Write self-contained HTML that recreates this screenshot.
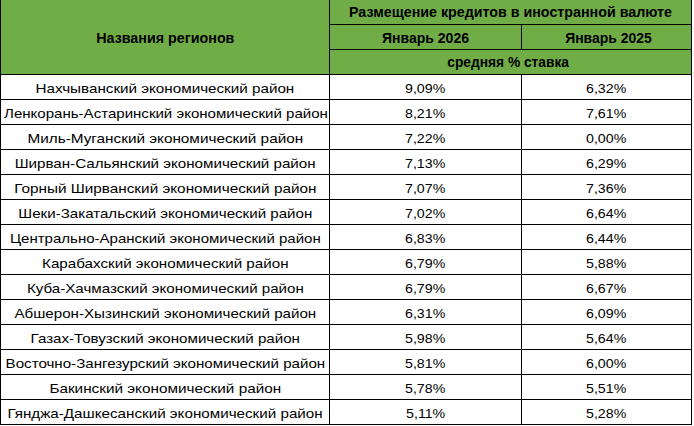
<!DOCTYPE html>
<html><head><meta charset="utf-8">
<style>
html,body{margin:0;padding:0;background:#fff;}
body{width:694px;height:426px;position:relative;overflow:hidden;font-family:"Liberation Sans",sans-serif;color:#000;}
.g{position:absolute;background:#70ad47;left:0;top:0;width:692px;height:74px;}
.h{position:absolute;background:#000;height:1px;}
.v{position:absolute;background:#000;width:1px;}
.c{position:absolute;text-align:center;white-space:nowrap;height:25px;line-height:25px;}
.c span{display:inline-block;transform-origin:50% 50%;}
.b{font-weight:bold;font-size:14px;}
.r{font-size:13.5px;}
</style></head><body>
<div class="g"></div>
<div class="h" style="left:329px;top:24px;width:363px"></div>
<div class="h" style="left:329px;top:49px;width:363px"></div>
<div class="h" style="left:0;top:74px;width:692px"></div>
<div class="h" style="left:0;top:99px;width:692px"></div>
<div class="h" style="left:0;top:124px;width:692px"></div>
<div class="h" style="left:0;top:149px;width:692px"></div>
<div class="h" style="left:0;top:174px;width:692px"></div>
<div class="h" style="left:0;top:199px;width:692px"></div>
<div class="h" style="left:0;top:224px;width:692px"></div>
<div class="h" style="left:0;top:249px;width:692px"></div>
<div class="h" style="left:0;top:274px;width:692px"></div>
<div class="h" style="left:0;top:299px;width:692px"></div>
<div class="h" style="left:0;top:324px;width:692px"></div>
<div class="h" style="left:0;top:349px;width:692px"></div>
<div class="h" style="left:0;top:374px;width:692px"></div>
<div class="h" style="left:0;top:399px;width:692px"></div>
<div class="h" style="left:0;top:424px;width:692px"></div>
<div class="v" style="left:0;top:0;height:425px"></div>
<div class="v" style="left:329px;top:0;height:425px"></div>
<div class="v" style="left:691px;top:0;height:425px"></div>
<div class="v" style="left:521px;top:24px;height:25px"></div>
<div class="v" style="left:521px;top:74px;height:351px"></div>
<div class="c b" style="left:1px;width:328px;top:25.5px"><span style="transform:translateX(0.65px) scaleX(1.0216)">Названия регионов</span></div>
<div class="c b" style="left:330px;width:361px;top:0px"><span style="transform:translateX(0.00px) scaleX(1.0187)">Размещение кредитов в иностранной валюте</span></div>
<div class="c b" style="left:330px;width:191px;top:25.7px"><span style="transform:translateX(0.00px) scaleX(1.0012)">Январь 2026</span></div>
<div class="c b" style="left:522px;width:169px;top:25.7px"><span style="transform:translateX(1.95px) scaleX(0.9942)">Январь 2025</span></div>
<div class="c b" style="left:330px;width:361px;top:50px"><span style="transform:translateX(-2.80px) scaleX(0.9823)">средняя % ставка</span></div>
<div class="c r" style="left:1px;width:328px;top:75.6px"><span style="transform:translateX(0.00px) scaleX(1.1268)">Нахчыванский экономический район</span></div>
<div class="c r" style="left:330px;width:191px;top:75.6px"><span style="transform:translateX(0.00px) scaleX(1.0500)">9,09%</span></div>
<div class="c r" style="left:522px;width:169px;top:75.6px"><span style="transform:translateX(0.00px) scaleX(1.0500)">6,32%</span></div>
<div class="c r" style="left:1px;width:328px;top:100.6px"><span style="transform:translateX(0.70px) scaleX(1.1149)">Ленкорань-Астаринский экономический район</span></div>
<div class="c r" style="left:330px;width:191px;top:100.6px"><span style="transform:translateX(0.00px) scaleX(1.0500)">8,21%</span></div>
<div class="c r" style="left:522px;width:169px;top:100.6px"><span style="transform:translateX(0.00px) scaleX(1.0500)">7,61%</span></div>
<div class="c r" style="left:1px;width:328px;top:125.6px"><span style="transform:translateX(0.70px) scaleX(1.1336)">Миль-Муганский экономический район</span></div>
<div class="c r" style="left:330px;width:191px;top:125.6px"><span style="transform:translateX(0.00px) scaleX(1.0500)">7,22%</span></div>
<div class="c r" style="left:522px;width:169px;top:125.6px"><span style="transform:translateX(0.00px) scaleX(1.0500)">0,00%</span></div>
<div class="c r" style="left:1px;width:328px;top:150.6px"><span style="transform:translateX(0.00px) scaleX(1.1218)">Ширван-Сальянский экономический район</span></div>
<div class="c r" style="left:330px;width:191px;top:150.6px"><span style="transform:translateX(0.00px) scaleX(1.0500)">7,13%</span></div>
<div class="c r" style="left:522px;width:169px;top:150.6px"><span style="transform:translateX(0.00px) scaleX(1.0500)">6,29%</span></div>
<div class="c r" style="left:1px;width:328px;top:175.6px"><span style="transform:translateX(0.00px) scaleX(1.1341)">Горный Ширванский экономический район</span></div>
<div class="c r" style="left:330px;width:191px;top:175.6px"><span style="transform:translateX(0.00px) scaleX(1.0500)">7,07%</span></div>
<div class="c r" style="left:522px;width:169px;top:175.6px"><span style="transform:translateX(0.00px) scaleX(1.0500)">7,36%</span></div>
<div class="c r" style="left:1px;width:328px;top:200.6px"><span style="transform:translateX(0.00px) scaleX(1.1192)">Шеки-Закатальский экономический район</span></div>
<div class="c r" style="left:330px;width:191px;top:200.6px"><span style="transform:translateX(0.00px) scaleX(1.0500)">7,02%</span></div>
<div class="c r" style="left:522px;width:169px;top:200.6px"><span style="transform:translateX(0.00px) scaleX(1.0500)">6,64%</span></div>
<div class="c r" style="left:1px;width:328px;top:225.6px"><span style="transform:translateX(0.70px) scaleX(1.1126)">Центрально-Аранский экономический район</span></div>
<div class="c r" style="left:330px;width:191px;top:225.6px"><span style="transform:translateX(0.00px) scaleX(1.0500)">6,83%</span></div>
<div class="c r" style="left:522px;width:169px;top:225.6px"><span style="transform:translateX(0.00px) scaleX(1.0500)">6,44%</span></div>
<div class="c r" style="left:1px;width:328px;top:250.6px"><span style="transform:translateX(0.70px) scaleX(1.1244)">Карабахский экономический район</span></div>
<div class="c r" style="left:330px;width:191px;top:250.6px"><span style="transform:translateX(0.00px) scaleX(1.0500)">6,79%</span></div>
<div class="c r" style="left:522px;width:169px;top:250.6px"><span style="transform:translateX(0.00px) scaleX(1.0500)">5,88%</span></div>
<div class="c r" style="left:1px;width:328px;top:275.6px"><span style="transform:translateX(0.70px) scaleX(1.1187)">Куба-Хачмазский экономический район</span></div>
<div class="c r" style="left:330px;width:191px;top:275.6px"><span style="transform:translateX(0.00px) scaleX(1.0500)">6,79%</span></div>
<div class="c r" style="left:522px;width:169px;top:275.6px"><span style="transform:translateX(0.00px) scaleX(1.0500)">6,67%</span></div>
<div class="c r" style="left:1px;width:328px;top:300.6px"><span style="transform:translateX(0.70px) scaleX(1.1209)">Абшерон-Хызинский экономический район</span></div>
<div class="c r" style="left:330px;width:191px;top:300.6px"><span style="transform:translateX(0.00px) scaleX(1.0500)">6,31%</span></div>
<div class="c r" style="left:522px;width:169px;top:300.6px"><span style="transform:translateX(0.00px) scaleX(1.0500)">6,09%</span></div>
<div class="c r" style="left:1px;width:328px;top:325.6px"><span style="transform:translateX(0.00px) scaleX(1.1198)">Газах-Товузский экономический район</span></div>
<div class="c r" style="left:330px;width:191px;top:325.6px"><span style="transform:translateX(0.00px) scaleX(1.0500)">5,98%</span></div>
<div class="c r" style="left:522px;width:169px;top:325.6px"><span style="transform:translateX(0.00px) scaleX(1.0500)">5,64%</span></div>
<div class="c r" style="left:1px;width:328px;top:350.6px"><span style="transform:translateX(0.70px) scaleX(1.1197)">Восточно-Зангезурский экономический район</span></div>
<div class="c r" style="left:330px;width:191px;top:350.6px"><span style="transform:translateX(0.00px) scaleX(1.0500)">5,81%</span></div>
<div class="c r" style="left:522px;width:169px;top:350.6px"><span style="transform:translateX(0.00px) scaleX(1.0500)">6,00%</span></div>
<div class="c r" style="left:1px;width:328px;top:375.6px"><span style="transform:translateX(0.00px) scaleX(1.1332)">Бакинский экономический район</span></div>
<div class="c r" style="left:330px;width:191px;top:375.6px"><span style="transform:translateX(0.00px) scaleX(1.0500)">5,78%</span></div>
<div class="c r" style="left:522px;width:169px;top:375.6px"><span style="transform:translateX(0.00px) scaleX(1.0500)">5,51%</span></div>
<div class="c r" style="left:1px;width:328px;top:400.6px"><span style="transform:translateX(0.00px) scaleX(1.1252)">Гянджа-Дашкесанский экономический район</span></div>
<div class="c r" style="left:330px;width:191px;top:400.6px"><span style="transform:translateX(0.00px) scaleX(1.0500)">5,11%</span></div>
<div class="c r" style="left:522px;width:169px;top:400.6px"><span style="transform:translateX(0.00px) scaleX(1.0500)">5,28%</span></div>
</body></html>
